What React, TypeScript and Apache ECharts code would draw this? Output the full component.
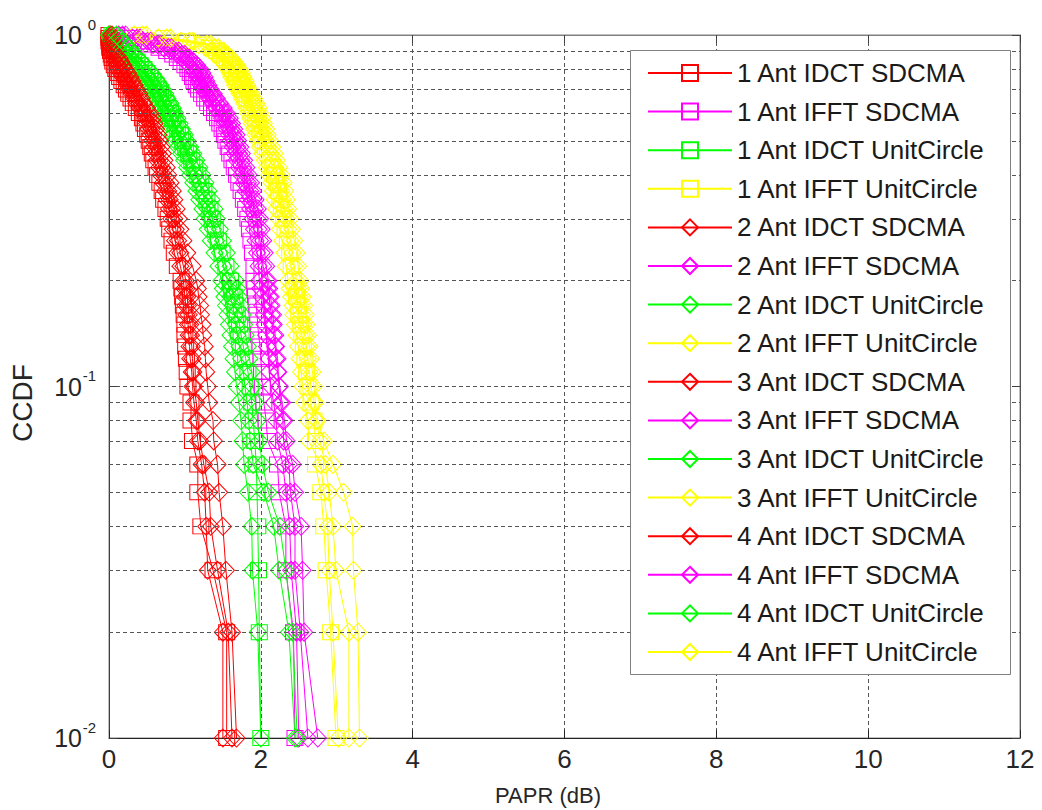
import React, { useEffect, useRef } from 'react';
import * as echarts from 'echarts';

const FONT = '"Liberation Sans", Arial, Helvetica, sans-serif';

// CCDF levels (y values) at which each curve is sampled
const ccdfLevels = [
  0.01, 0.02, 0.03, 0.04, 0.05, 0.06, 0.07, 0.08, 0.09, 0.1,
  0.11, 0.12, 0.13, 0.14, 0.15, 0.16, 0.17, 0.18, 0.19, 0.2,
  0.22, 0.24, 0.26, 0.28, 0.3, 0.32, 0.34, 0.36, 0.38, 0.4, 0.42, 0.44, 0.46, 0.48, 0.5,
  0.52, 0.54, 0.56, 0.58, 0.6, 0.62, 0.64, 0.66, 0.68, 0.7, 0.72, 0.74, 0.76, 0.78, 0.8,
  0.82, 0.84, 0.86, 0.88, 0.9, 0.92, 0.94, 0.96, 0.98, 1.0,
];

// PAPR (dB) values per curve, aligned with ccdfLevels
const ant1IdctSdcma = [1.55, 1.55, 1.37, 1.21, 1.17, 1.17, 1.1, 1.08, 1.08, 1.04, 1.03, 1.02, 1.01, 1.0, 1.0, 0.99, 0.98, 0.97, 0.96, 0.95, 0.9, 0.86, 0.83, 0.8, 0.78, 0.75, 0.72, 0.7, 0.67, 0.64, 0.62, 0.59, 0.57, 0.55, 0.53, 0.51, 0.48, 0.46, 0.44, 0.4, 0.36, 0.32, 0.29, 0.26, 0.23, 0.2, 0.17, 0.14, 0.12, 0.09, 0.07, 0.05, 0.04, 0.03, 0.02, 0.01, 0.01, 0.0, 0.0, 0.0];
const ant2IdctSdcma = [1.5, 1.5, 1.3, 1.28, 1.26, 1.22, 1.17, 1.15, 1.12, 1.1, 1.09, 1.07, 1.06, 1.05, 1.04, 1.02, 1.01, 1.0, 0.99, 0.98, 0.94, 0.9, 0.87, 0.84, 0.82, 0.79, 0.76, 0.74, 0.71, 0.68, 0.66, 0.63, 0.61, 0.59, 0.57, 0.55, 0.52, 0.5, 0.48, 0.44, 0.4, 0.36, 0.33, 0.3, 0.27, 0.24, 0.21, 0.18, 0.15, 0.12, 0.1, 0.08, 0.06, 0.04, 0.03, 0.02, 0.01, 0.01, 0.0, 0.0];
const ant3IdctSdcma = [1.62, 1.57, 1.43, 1.34, 1.32, 1.25, 1.2, 1.17, 1.15, 1.12, 1.11, 1.1, 1.09, 1.08, 1.07, 1.05, 1.04, 1.03, 1.02, 1.01, 0.98, 0.94, 0.91, 0.88, 0.86, 0.83, 0.8, 0.78, 0.75, 0.72, 0.7, 0.67, 0.65, 0.63, 0.61, 0.59, 0.56, 0.54, 0.52, 0.48, 0.44, 0.4, 0.37, 0.34, 0.31, 0.28, 0.25, 0.22, 0.19, 0.16, 0.13, 0.11, 0.09, 0.07, 0.06, 0.05, 0.04, 0.03, 0.03, 0.02];
const ant4IdctSdcma = [1.68, 1.62, 1.54, 1.5, 1.45, 1.43, 1.38, 1.37, 1.32, 1.3, 1.28, 1.27, 1.26, 1.24, 1.23, 1.21, 1.2, 1.18, 1.17, 1.15, 1.1, 1.03, 0.98, 0.94, 0.92, 0.89, 0.86, 0.84, 0.81, 0.78, 0.76, 0.73, 0.71, 0.69, 0.67, 0.65, 0.62, 0.6, 0.58, 0.54, 0.5, 0.46, 0.43, 0.4, 0.37, 0.34, 0.31, 0.28, 0.25, 0.22, 0.19, 0.16, 0.14, 0.12, 0.1, 0.08, 0.07, 0.06, 0.05, 0.04];

const ant1IdctUnit = [2.0, 1.98, 1.97, 1.96, 1.95, 1.94, 1.92, 1.9, 1.88, 1.86, 1.83, 1.8, 1.77, 1.74, 1.72, 1.69, 1.67, 1.65, 1.62, 1.6, 1.54, 1.49, 1.44, 1.4, 1.36, 1.33, 1.29, 1.25, 1.21, 1.17, 1.13, 1.09, 1.05, 1.01, 0.97, 0.94, 0.9, 0.87, 0.84, 0.81, 0.78, 0.75, 0.71, 0.68, 0.65, 0.62, 0.58, 0.54, 0.5, 0.46, 0.41, 0.37, 0.32, 0.28, 0.24, 0.2, 0.16, 0.12, 0.08, 0.04];
const ant2IdctUnit = [2.0, 1.96, 1.89, 1.88, 1.83, 1.78, 1.76, 1.74, 1.71, 1.68, 1.66, 1.64, 1.62, 1.6, 1.58, 1.56, 1.54, 1.52, 1.5, 1.48, 1.44, 1.39, 1.34, 1.3, 1.26, 1.23, 1.19, 1.15, 1.11, 1.07, 1.03, 0.99, 0.95, 0.91, 0.87, 0.84, 0.8, 0.77, 0.74, 0.71, 0.68, 0.65, 0.61, 0.58, 0.55, 0.52, 0.48, 0.44, 0.4, 0.36, 0.31, 0.27, 0.22, 0.18, 0.14, 0.1, 0.06, 0.03, 0.01, 0.0];
const ant3IdctUnit = [2.45, 2.37, 2.24, 2.17, 2.04, 1.9, 1.86, 1.84, 1.82, 1.79, 1.77, 1.74, 1.72, 1.69, 1.67, 1.65, 1.63, 1.6, 1.58, 1.56, 1.51, 1.46, 1.41, 1.37, 1.33, 1.3, 1.26, 1.22, 1.18, 1.14, 1.1, 1.06, 1.02, 0.98, 0.94, 0.91, 0.87, 0.84, 0.81, 0.78, 0.75, 0.72, 0.68, 0.65, 0.62, 0.59, 0.55, 0.51, 0.47, 0.43, 0.38, 0.34, 0.29, 0.25, 0.21, 0.17, 0.13, 0.09, 0.05, 0.01];
const ant4IdctUnit = [2.48, 2.42, 2.33, 2.25, 2.1, 2.02, 1.98, 1.96, 1.93, 1.9, 1.88, 1.85, 1.83, 1.8, 1.78, 1.76, 1.74, 1.71, 1.69, 1.67, 1.6, 1.55, 1.5, 1.46, 1.42, 1.39, 1.35, 1.31, 1.27, 1.23, 1.19, 1.15, 1.11, 1.07, 1.03, 1.0, 0.96, 0.93, 0.9, 0.87, 0.84, 0.81, 0.77, 0.74, 0.71, 0.68, 0.64, 0.6, 0.56, 0.52, 0.47, 0.43, 0.38, 0.34, 0.3, 0.26, 0.22, 0.18, 0.14, 0.1];

const ant1IfftSdcma = [2.45, 2.43, 2.33, 2.33, 2.24, 2.22, 2.09, 2.07, 2.04, 2.02, 2.01, 2.0, 1.99, 1.97, 1.96, 1.95, 1.94, 1.93, 1.92, 1.91, 1.91, 1.89, 1.87, 1.85, 1.83, 1.8, 1.77, 1.74, 1.71, 1.68, 1.65, 1.62, 1.59, 1.57, 1.54, 1.52, 1.49, 1.46, 1.43, 1.39, 1.35, 1.3, 1.26, 1.22, 1.18, 1.15, 1.12, 1.1, 1.07, 1.04, 1.0, 0.95, 0.9, 0.84, 0.76, 0.66, 0.53, 0.41, 0.28, 0.1];
const ant2IfftSdcma = [2.5, 2.47, 2.4, 2.38, 2.33, 2.29, 2.22, 2.2, 2.17, 2.13, 2.11, 2.1, 2.08, 2.07, 2.05, 2.04, 2.02, 2.01, 1.99, 1.98, 1.97, 1.95, 1.93, 1.91, 1.89, 1.86, 1.83, 1.8, 1.77, 1.74, 1.71, 1.68, 1.65, 1.63, 1.6, 1.58, 1.55, 1.52, 1.49, 1.45, 1.41, 1.36, 1.32, 1.28, 1.24, 1.21, 1.18, 1.16, 1.13, 1.1, 1.06, 1.01, 0.96, 0.9, 0.82, 0.72, 0.58, 0.45, 0.31, 0.13];
const ant3IfftSdcma = [2.62, 2.52, 2.45, 2.45, 2.39, 2.37, 2.3, 2.29, 2.26, 2.24, 2.22, 2.2, 2.19, 2.17, 2.15, 2.14, 2.12, 2.11, 2.09, 2.08, 2.03, 2.01, 1.99, 1.97, 1.95, 1.92, 1.89, 1.86, 1.83, 1.8, 1.77, 1.74, 1.71, 1.69, 1.66, 1.64, 1.61, 1.58, 1.55, 1.51, 1.47, 1.42, 1.38, 1.34, 1.3, 1.27, 1.24, 1.22, 1.19, 1.16, 1.12, 1.07, 1.02, 0.96, 0.88, 0.78, 0.64, 0.51, 0.37, 0.18];
const ant4IfftSdcma = [2.75, 2.57, 2.55, 2.53, 2.45, 2.42, 2.34, 2.31, 2.28, 2.25, 2.23, 2.22, 2.2, 2.19, 2.17, 2.16, 2.14, 2.13, 2.11, 2.1, 2.07, 2.05, 2.03, 2.01, 1.99, 1.96, 1.93, 1.9, 1.87, 1.84, 1.81, 1.78, 1.75, 1.73, 1.7, 1.68, 1.65, 1.62, 1.59, 1.55, 1.51, 1.46, 1.42, 1.38, 1.34, 1.31, 1.28, 1.26, 1.23, 1.2, 1.16, 1.11, 1.06, 1.0, 0.92, 0.82, 0.68, 0.55, 0.41, 0.22];

const ant1IfftUnit = [2.99, 2.92, 2.86, 2.83, 2.79, 2.72, 2.72, 2.7, 2.66, 2.62, 2.6, 2.58, 2.56, 2.54, 2.52, 2.5, 2.49, 2.47, 2.45, 2.43, 2.4, 2.38, 2.35, 2.32, 2.3, 2.27, 2.25, 2.23, 2.21, 2.18, 2.15, 2.12, 2.09, 2.06, 2.03, 2.0, 1.98, 1.95, 1.93, 1.9, 1.88, 1.85, 1.82, 1.79, 1.76, 1.73, 1.71, 1.68, 1.66, 1.63, 1.6, 1.56, 1.52, 1.47, 1.42, 1.35, 1.25, 1.02, 0.72, 0.4];
const ant2IfftUnit = [3.02, 2.95, 2.9, 2.88, 2.83, 2.79, 2.63, 2.62, 2.57, 2.55, 2.53, 2.51, 2.49, 2.47, 2.45, 2.43, 2.42, 2.4, 2.38, 2.36, 2.33, 2.31, 2.28, 2.25, 2.23, 2.2, 2.18, 2.16, 2.14, 2.11, 2.08, 2.05, 2.02, 1.99, 1.96, 1.93, 1.91, 1.88, 1.86, 1.83, 1.81, 1.78, 1.75, 1.72, 1.69, 1.66, 1.64, 1.61, 1.59, 1.56, 1.53, 1.49, 1.45, 1.4, 1.35, 1.28, 1.18, 0.95, 0.65, 0.33];
const ant3IfftUnit = [3.16, 3.16, 2.99, 2.95, 2.9, 2.85, 2.78, 2.73, 2.7, 2.66, 2.64, 2.62, 2.6, 2.58, 2.56, 2.54, 2.53, 2.51, 2.49, 2.47, 2.44, 2.42, 2.39, 2.36, 2.34, 2.31, 2.29, 2.27, 2.25, 2.22, 2.19, 2.16, 2.13, 2.1, 2.07, 2.04, 2.02, 1.99, 1.97, 1.94, 1.92, 1.89, 1.86, 1.83, 1.8, 1.77, 1.75, 1.72, 1.7, 1.67, 1.64, 1.6, 1.56, 1.51, 1.46, 1.39, 1.29, 1.06, 0.76, 0.44];
const ant4IfftUnit = [3.3, 3.28, 3.22, 3.21, 3.09, 2.95, 2.83, 2.75, 2.72, 2.7, 2.68, 2.66, 2.64, 2.62, 2.6, 2.59, 2.57, 2.55, 2.53, 2.52, 2.49, 2.47, 2.44, 2.41, 2.39, 2.36, 2.34, 2.32, 2.3, 2.27, 2.24, 2.21, 2.18, 2.15, 2.12, 2.09, 2.07, 2.04, 2.02, 1.99, 1.97, 1.94, 1.91, 1.88, 1.85, 1.82, 1.8, 1.77, 1.75, 1.72, 1.69, 1.65, 1.61, 1.56, 1.51, 1.44, 1.34, 1.11, 0.81, 0.49];

const seriesNames = [
  '1 Ant IDCT SDCMA', '1 Ant IFFT SDCMA', '1 Ant IDCT UnitCircle', '1 Ant IFFT UnitCircle',
  '2 Ant IDCT SDCMA', '2 Ant IFFT SDCMA', '2 Ant IDCT UnitCircle', '2 Ant IFFT UnitCircle',
  '3 Ant IDCT SDCMA', '3 Ant IFFT SDCMA', '3 Ant IDCT UnitCircle', '3 Ant IFFT UnitCircle',
  '4 Ant IDCT SDCMA', '4 Ant IFFT SDCMA', '4 Ant IDCT UnitCircle', '4 Ant IFFT UnitCircle',
];

const seriesPapr = [
  ant1IdctSdcma, ant1IfftSdcma, ant1IdctUnit, ant1IfftUnit,
  ant2IdctSdcma, ant2IfftSdcma, ant2IdctUnit, ant2IfftUnit,
  ant3IdctSdcma, ant3IfftSdcma, ant3IdctUnit, ant3IfftUnit,
  ant4IdctSdcma, ant4IfftSdcma, ant4IdctUnit, ant4IfftUnit,
];

const minorGridLevels = [0.02, 0.03, 0.04, 0.05, 0.06, 0.07, 0.08, 0.09, 0.2, 0.3, 0.4, 0.5, 0.6, 0.7, 0.8, 0.9];

// styles
const methodColors = ['#ff0000', '#ff00ff', '#00ff00', '#ffff00'];
const GRID_COLOR = '#555555';
const TEXT_COLOR = '#262626';

const logYBase = { type: 'log', logBase: 10, min: 0.01, max: 1 };

function buildOption() {
  const dataSeries = seriesNames.map((name, i) => {
    const color = methodColors[i % 4];
    const isSquare = i < 4;
    const xs = seriesPapr[i];
    return {
      name,
      type: 'line',
      data: ccdfLevels.map((y, k) => [xs[k], y]),
      symbol: isSquare ? 'rect' : 'diamond',
      symbolSize: isSquare ? [16, 15] : [17, 18],
      showSymbol: true,
      clip: false,
      z: 3,
      lineStyle: { color, width: 1 },
      itemStyle: { color: 'rgba(255,255,255,0)', borderColor: color, borderWidth: 1 },
      emphasis: { disabled: true },
    };
  });

  const gridSeries = {
    name: '__minorgrid',
    type: 'line',
    data: [],
    silent: true,
    z: 1,
    markLine: {
      silent: true,
      symbol: ['none', 'none'],
      label: { show: false },
      emphasis: { disabled: true },
      lineStyle: { color: GRID_COLOR, type: [4, 3], width: 1 },
      data: minorGridLevels.map((v) => ({ yAxis: v })),
    },
  };

  return {
    animation: false,
    backgroundColor: '#ffffff',
    grid: { left: 109, right: 22, top: 35, bottom: 72, show: true, borderColor: '#808080', borderWidth: 1, backgroundColor: 'transparent' },
    xAxis: [
      {
        type: 'value', min: 0, max: 12, interval: 2,
        axisLine: { show: true, onZero: false, lineStyle: { color: TEXT_COLOR, width: 1 } },
        axisTick: { show: true, inside: true, length: 8, lineStyle: { color: TEXT_COLOR } },
        axisLabel: { fontSize: 26, fontFamily: FONT, color: TEXT_COLOR, margin: 8 },
        splitLine: { show: true, lineStyle: { color: GRID_COLOR, type: [4, 3], width: 1 } },
      },
      {
        type: 'value', min: 0, max: 12, interval: 2, position: 'top',
        axisLine: { show: true, onZero: false, lineStyle: { color: '#808080', width: 1 } },
        axisTick: { show: true, inside: true, length: 8, lineStyle: { color: '#404040' } },
        axisLabel: { show: false },
        splitLine: { show: false },
      },
    ],
    yAxis: [
      {
        ...logYBase,
        axisLine: { show: true, onZero: false, lineStyle: { color: '#404040', width: 1 } },
        axisTick: { show: true, inside: true, length: 8, lineStyle: { color: '#404040' } },
        axisLabel: {
          margin: 27,
          fontSize: 25,
          fontFamily: FONT,
          color: TEXT_COLOR,
          formatter: () => '10',
        },
        splitLine: { show: true, lineStyle: { color: GRID_COLOR, type: [4, 3], width: 1 } },
      },
      {
        ...logYBase,
        position: 'right',
        axisLine: { show: true, onZero: false, lineStyle: { color: '#555555', width: 1 } },
        axisTick: { show: true, inside: true, length: 8, lineStyle: { color: '#404040' } },
        axisLabel: { show: false },
        splitLine: { show: false },
      },
      {
        // exponent of the decade labels (superscript)
        ...logYBase,
        position: 'left',
        axisLine: { show: false },
        axisTick: { show: false },
        splitLine: { show: false },
        axisLabel: {
          margin: 13,
          fontSize: 15,
          fontFamily: FONT,
          color: TEXT_COLOR,
          verticalAlign: 'bottom',
          lineHeight: 22,
          formatter: (v: number) => String(Math.round(Math.log10(v))),
        },
      },
    ],
    legend: {
      data: seriesNames,
      orient: 'vertical',
      left: 647,
      top: 60,
      padding: 0,
      itemWidth: 84,
      itemHeight: 20,
      itemGap: 12.6,
      selectedMode: false,
      z: 20,
      textStyle: { fontSize: 26, fontFamily: FONT, color: '#1a1a1a' },
    },
    graphic: [
      {
        type: 'rect', z: 10, silent: true,
        shape: { x: 630.5, y: 50.5, width: 380, height: 624 },
        style: { fill: '#ffffff', stroke: '#7f7f7f', lineWidth: 1 },
      },
      {
        type: 'text', x: 548, y: 795, silent: true,
        style: { text: 'PAPR (dB)', fontSize: 22, fontFamily: FONT, fill: TEXT_COLOR, align: 'center', verticalAlign: 'middle' },
      },
      {
        type: 'text', x: 22, y: 403, rotation: Math.PI / 2, silent: true,
        style: { text: 'CCDF', fontSize: 28, fontFamily: FONT, fill: TEXT_COLOR, align: 'center', verticalAlign: 'middle' },
      },
    ],
    series: [gridSeries, ...dataSeries],
  };
}

export default function App() {
  const ref = useRef<HTMLDivElement>(null);
  useEffect(() => {
    if (!ref.current) return;
    const chart = echarts.init(ref.current, null, { renderer: 'svg' });
    chart.setOption(buildOption() as any);
    return () => chart.dispose();
  }, []);
  return <div ref={ref} style={{ position: 'absolute', left: 0, top: 0, width: 1042, height: 810 }} />;
}
